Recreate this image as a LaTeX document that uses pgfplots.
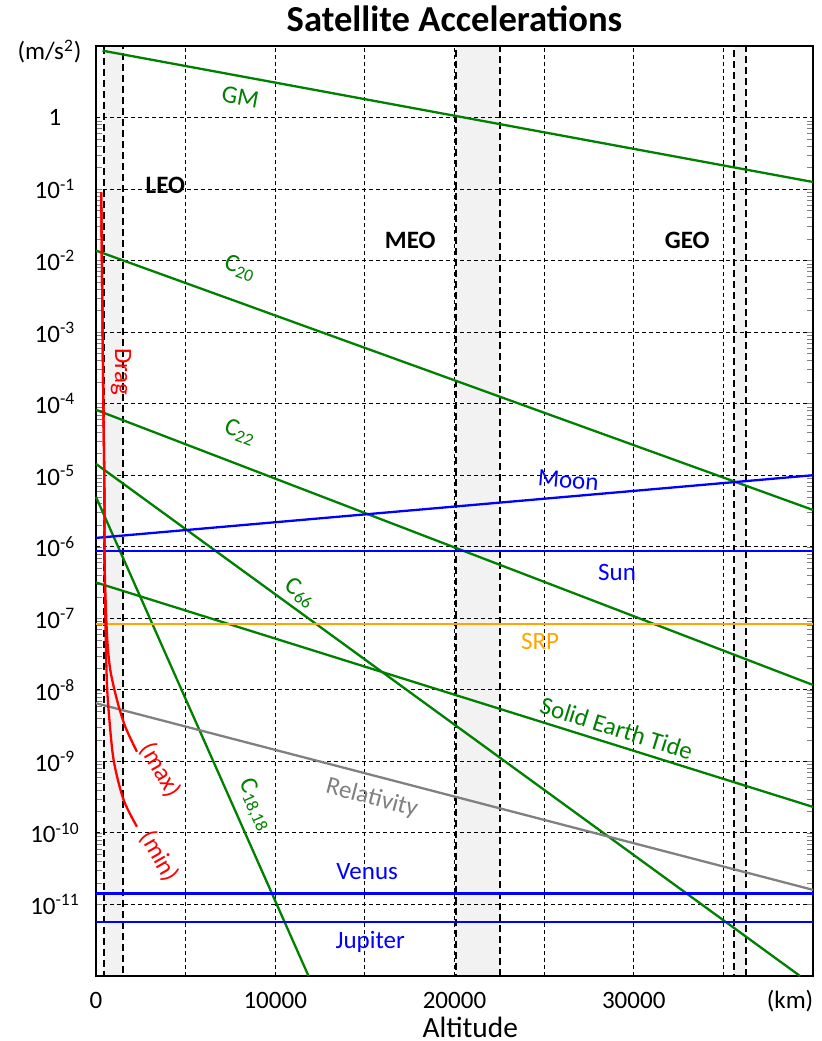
\documentclass[border=0pt]{standalone}
\usepackage{fontspec}
\setmainfont{Carlito}
\usepackage{pgfplots}
\pgfplotsset{compat=1.18}
\definecolor{xgreen}{RGB}{0,128,0}
\definecolor{xblue}{RGB}{0,0,255}
\definecolor{xred}{RGB}{255,0,0}
\definecolor{xorange}{RGB}{255,165,0}
\definecolor{xgray}{RGB}{128,128,128}
\definecolor{bandfill}{RGB}{242,242,242}
\newcommand\fs{\fontsize{12.5}{15}\selectfont}
\begin{document}
\begin{tikzpicture}
\begin{axis}[
  at={(0,0)}, anchor=south west,
  scale only axis, width=358.5pt, height=465pt,
  ymode=log, xmin=0, xmax=40000, ymin=1e-12, ymax=10,
  set layers, clip=false,
  axis line style={line width=1pt, black},
  grid=major,
  major grid style={black, line width=0.5pt, dash pattern=on 2pt off 1.5pt},
  scaled x ticks=false,
  xtick={0,5000,10000,15000,20000,25000,30000,35000,40000},
  xticklabels={0,,10000,,20000,,30000,,},
  ytick={1e-11,1e-10,1e-9,1e-8,1e-7,1e-6,1e-5,1e-4,1e-3,1e-2,1e-1,1},
  yticklabels={10\textsuperscript{-11},10\textsuperscript{-10},10\textsuperscript{-9},10\textsuperscript{-8},10\textsuperscript{-7},10\textsuperscript{-6},10\textsuperscript{-5},10\textsuperscript{-4},10\textsuperscript{-3},10\textsuperscript{-2},10\textsuperscript{-1},1},
  major tick length=0pt, minor tick num=0,
  yminorgrids=false,
  tick label style={font=\fs},
  /pgf/number format/assume math mode=true,
  yticklabel style={anchor=center, xshift=-20.5pt},
  xticklabel style={yshift=-4.5pt},
  every axis plot/.append style={line width=1.15pt},
]
% bands
\addplot[on layer=axis background, fill=bandfill, draw=black, line width=1pt, dash pattern=on 3.5pt off 2pt]
  coordinates {(463,1e-12) (1506,1e-12) (1506,10) (463,10) (463,1e-12)};
\addplot[on layer=axis background, fill=bandfill, draw=black, line width=1pt, dash pattern=on 3.5pt off 2pt]
  coordinates {(20080,1e-12) (22550,1e-12) (22550,10) (20080,10) (20080,1e-12)};
\addplot[on layer=axis background, fill=bandfill, draw=black, line width=1pt, dash pattern=on 3.5pt off 2pt]
  coordinates {(35620,1e-12) (36250,1e-12) (36250,10) (35620,10) (35620,1e-12)};
% Earth gravity field
\addplot[xgreen] coordinates {(368,8.6) (40000,0.1256)};
\addplot[xgreen] coordinates {(0,1.38e-2) (40000,3.27e-6)};
\addplot[xgreen] coordinates {(0,8.2e-5) (40000,1.17e-8)};
\addplot[xgreen] coordinates {(0,1.44e-5) (39280,1e-12)};
\addplot[xgreen] coordinates {(0,4.97e-6) (11857,1e-12)};
\addplot[xgreen] coordinates {(0,3.17e-7) (40000,2.31e-10)};
% third bodies
\addplot[xblue] coordinates {(0,1.33e-6) (40000,1.0e-5)};
\addplot[xblue] coordinates {(0,8.7e-7) (40000,8.7e-7)};
\addplot[xblue] coordinates {(0,1.43e-11) (40000,1.43e-11)};
\addplot[xblue] coordinates {(0,5.75e-12) (40000,5.75e-12)};
% SRP, relativity
\addplot[xorange] coordinates {(0,8.26e-8) (40000,8.26e-8)};
\addplot[xgray] coordinates {(0,6.5e-9) (40000,1.6e-11)};
% drag
\addplot[xred, smooth, tension=0.5] coordinates {(290,9e-2) (351,2.8e-3) (407,1.13e-4) (463,8.6e-6) (480,6.5e-7) (535,1.8e-7) (630,5.0e-8) (797,1.9e-8) (1171,7.2e-9) (1634,3.05e-9) (2287,1.36e-9)};
\addplot[xred, smooth, tension=0.5] coordinates {(290,9e-2) (351,2.8e-3) (407,1.13e-4) (463,8.6e-6) (480,6.5e-7) (508,1.8e-7) (547,5.0e-8) (602,1.37e-8) (703,5.2e-9) (982,1.05e-9) (1539,2.9e-10) (2287,1.22e-10)};
% labels
\begin{scope}[every node/.style={font=\fs}]
\node[xgreen, rotate=-10.5] at (axis cs:8050,1.94) {GM};
\node[xgreen, rotate=-19.9] at (axis cs:8050,7.9e-3) {C\textsubscript{20}};
\node[xgreen, rotate=-21] at (axis cs:8050,4e-5) {C\textsubscript{22}};
\node[xgreen, rotate=-36] at (axis cs:11410,2.26e-7) {C\textsubscript{66}};
\node[xgreen, rotate=-66] at (axis cs:8900,2.45e-10) {C\textsubscript{18,18}};
\node[xgreen, rotate=-17.4] at (axis cs:29050,2.9e-9) {Solid Earth Tide};
\node[xblue, rotate=-5] at (axis cs:26350,8.6e-6) {Moon};
\node[xblue] at (axis cs:29070,4.4e-7) {Sun};
\node[xorange] at (axis cs:24780,4.8e-8) {SRP};
\node[xgray, rotate=-14.6] at (axis cs:15390,3.05e-10) {Relativity};
\node[xblue] at (axis cs:15130,2.84e-11) {Venus};
\node[xblue] at (axis cs:15300,3.0e-12) {Jupiter};
\node[font=\fs\bfseries] at (axis cs:3870,0.114) {LEO};
\node[font=\fs\bfseries] at (axis cs:17530,1.94e-2) {MEO};
\node[font=\fs\bfseries] at (axis cs:32980,1.94e-2) {GEO};
\node[xred, rotate=-90] at (axis cs:1390,2.8e-4) {Drag};
\node[xred, rotate=-60] at (axis cs:3590,7.6e-10) {(max)};
\node[xred, rotate=-60] at (axis cs:3530,4.7e-11) {(min)};
\node at (axis cs:38720,1e-12) [yshift=-12.5pt] {(km)};
\node at (rel axis cs:0,1) [xshift=-23.25pt, yshift=-2.8pt] {(m/s\textsuperscript{2})};
\node[font=\fontsize{14.7}{17}\selectfont, inner sep=0pt] at (axis cs:20880,1e-12) [yshift=-25.5pt] {Altitude};
\node[font=\bfseries\fontsize{18.3}{22}\selectfont, inner sep=0pt] at (rel axis cs:0.5,1) [yshift=13.5pt] {Satellite Accelerations};
\end{scope}
\end{axis}
\path (-48pt,-32.5pt) rectangle (362.5pt,488pt);
\end{tikzpicture}
\end{document}
